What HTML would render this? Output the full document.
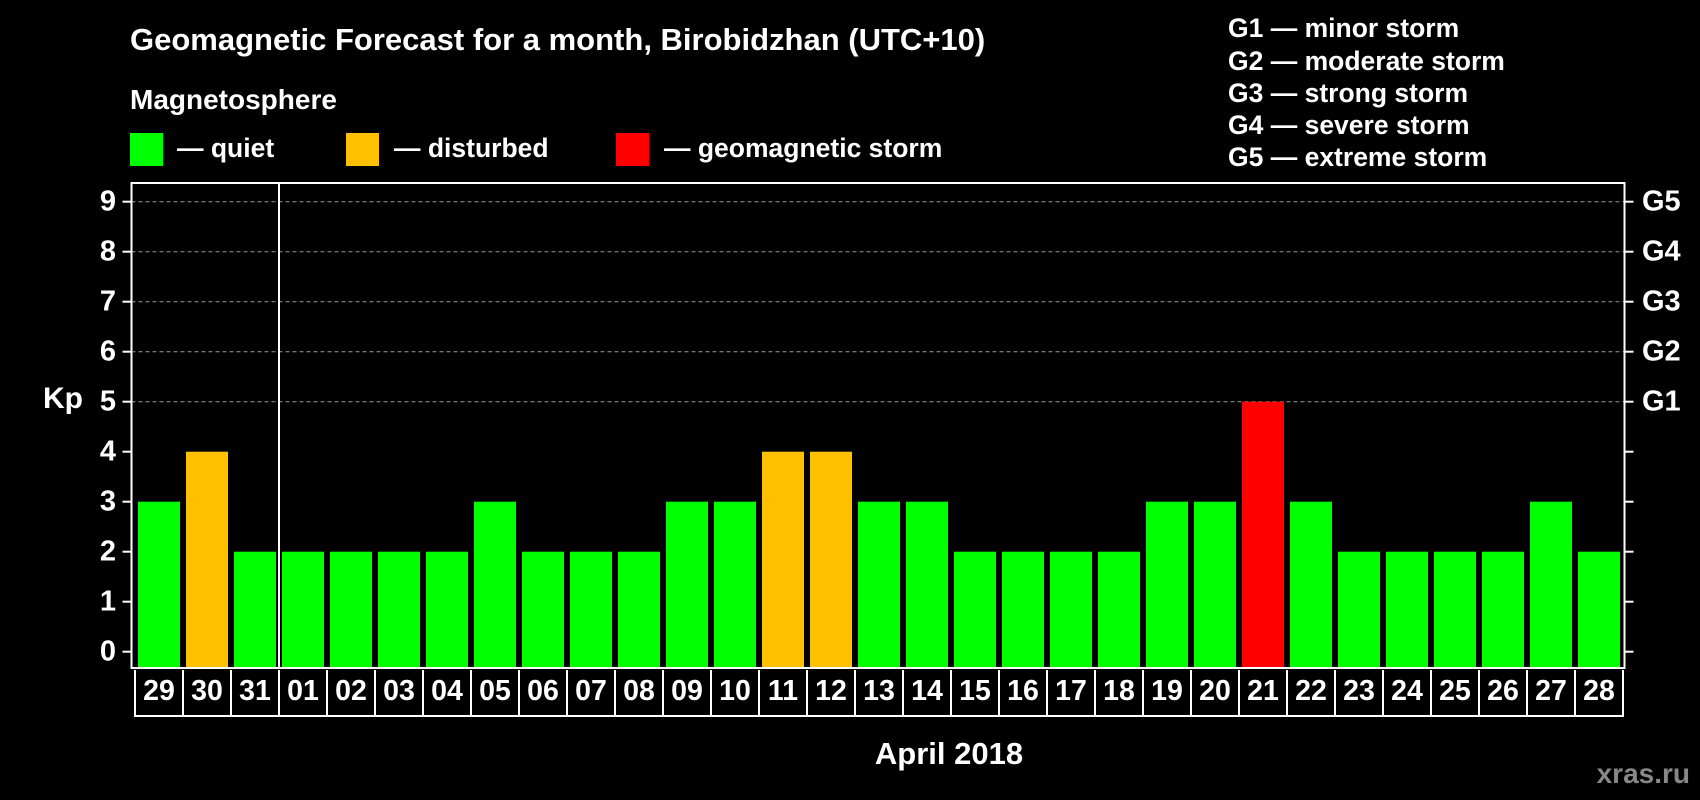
<!DOCTYPE html>
<html><head><meta charset="utf-8"><style>
html,body{margin:0;padding:0;background:#000;width:1700px;height:800px;overflow:hidden}
svg{display:block;font-family:"Liberation Sans",sans-serif;font-weight:bold}
</style></head><body>
<svg id="chart" width="1700" height="800">
<text x="130" y="50" fill="#fff" font-size="31">Geomagnetic Forecast for a month, Birobidzhan (UTC+10)</text>
<text x="130" y="109" fill="#fff" font-size="28">Magnetosphere</text>
<rect x="130" y="133" width="33" height="33" fill="#00ff00"/>
<text x="177" y="157" fill="#fff" font-size="26.5">— quiet</text>
<rect x="346" y="133" width="33" height="33" fill="#ffc000"/>
<text x="394" y="157" fill="#fff" font-size="26.5">— disturbed</text>
<rect x="616" y="133" width="33" height="33" fill="#ff0000"/>
<text x="664" y="157" fill="#fff" font-size="26.5">— geomagnetic storm</text>
<g fill="#fff" font-size="26.5">
<text x="1228" y="37">G1 — minor storm</text>
<text x="1228" y="70">G2 — moderate storm</text>
<text x="1228" y="102">G3 — strong storm</text>
<text x="1228" y="134">G4 — severe storm</text>
<text x="1228" y="166">G5 — extreme storm</text>
</g>
<text x="43" y="400" fill="#fff" font-size="30" dominant-baseline="middle">Kp</text>
<text x="949" y="764" fill="#fff" font-size="31" text-anchor="middle">April 2018</text>
<text x="1690" y="783" fill="#888" font-size="28" text-anchor="end">xras.ru</text>
<g id="plot"></g>
</svg>
<script>
const days=["29","30","31","01","02","03","04","05","06","07","08","09","10","11","12","13","14","15","16","17","18","19","20","21","22","23","24","25","26","27","28"];
const kp=[3,4,2,2,2,2,2,3,2,2,2,3,3,4,4,3,3,2,2,2,2,3,3,5,3,2,2,2,2,3,2];
const yTicks=[0,1,2,3,4,5,6,7,8,9];
const gLabels=["G1","G2","G3","G4","G5"];
const NS="http://www.w3.org/2000/svg";
const g=document.getElementById('plot');
const L=131.5,R=1624.5,T=183,B=668,step=48,bw=42,x0=138;
const y=v=>651.7-v*50;
const x=i=>x0+i*step;
function mk(t,a){const e=document.createElementNS(NS,t);for(const k in a)e.setAttribute(k,a[k]);g.appendChild(e);return e;}
yTicks.forEach(v=>{
  if(v>=5){const l=mk('line',{x1:L,x2:R,y1:y(v),y2:y(v),stroke:'#999','stroke-dasharray':'4 3','stroke-width':1});
  
  }
  const t=mk('line',{x1:L-9,x2:L,y1:y(v),y2:y(v),stroke:'#fff','stroke-width':2});
  
  
  const t2=mk('line',{x1:R,x2:R+9,y1:y(v),y2:y(v),stroke:'#fff','stroke-width':2});
  
  
  const tx=mk('text',{x:116,y:y(v),fill:'#fff','font-size':29,'text-anchor':'end','dominant-baseline':'central'});
  tx.textContent=v;
  
  
});
gLabels.forEach((s,i)=>{
  const tx=mk('text',{x:1642,y:y(5+i),fill:'#fff','font-size':29,'dominant-baseline':'central'});
  tx.textContent=s;
  
  
});
kp.forEach((v,i)=>{
  const c=v>=5?'#ff0000':(v>=4?'#ffc000':'#00ff00');
  const b=mk('rect',{x:x(i),y:y(v),width:bw,height:B-1-y(v),fill:c});
  
  
});
const fr=mk('rect',{x:L,y:T,width:R-L,height:B-T,fill:'none',stroke:'#fff','stroke-width':2});


const dv=mk('line',{x1:x(3)-3,x2:x(3)-3,y1:T,y2:B,stroke:'#fff','stroke-width':2});


const bl=mk('line',{x1:x(0)-3,x2:x(days.length)-3,y1:716,y2:716,stroke:'#fff','stroke-width':2});


days.forEach((d,i)=>{
  const l=mk('line',{x1:x(i)-3,x2:x(i)-3,y1:670,y2:717,stroke:'#fff','stroke-width':2});
  
  
  const t=mk('text',{x:x(i)+bw/2,y:700,fill:'#fff','font-size':28.5,'text-anchor':'middle'});
  t.textContent=d;
  
  
});
const el=mk('line',{x1:x(days.length)-3,x2:x(days.length)-3,y1:670,y2:717,stroke:'#fff','stroke-width':2});


</script>
</body></html>
